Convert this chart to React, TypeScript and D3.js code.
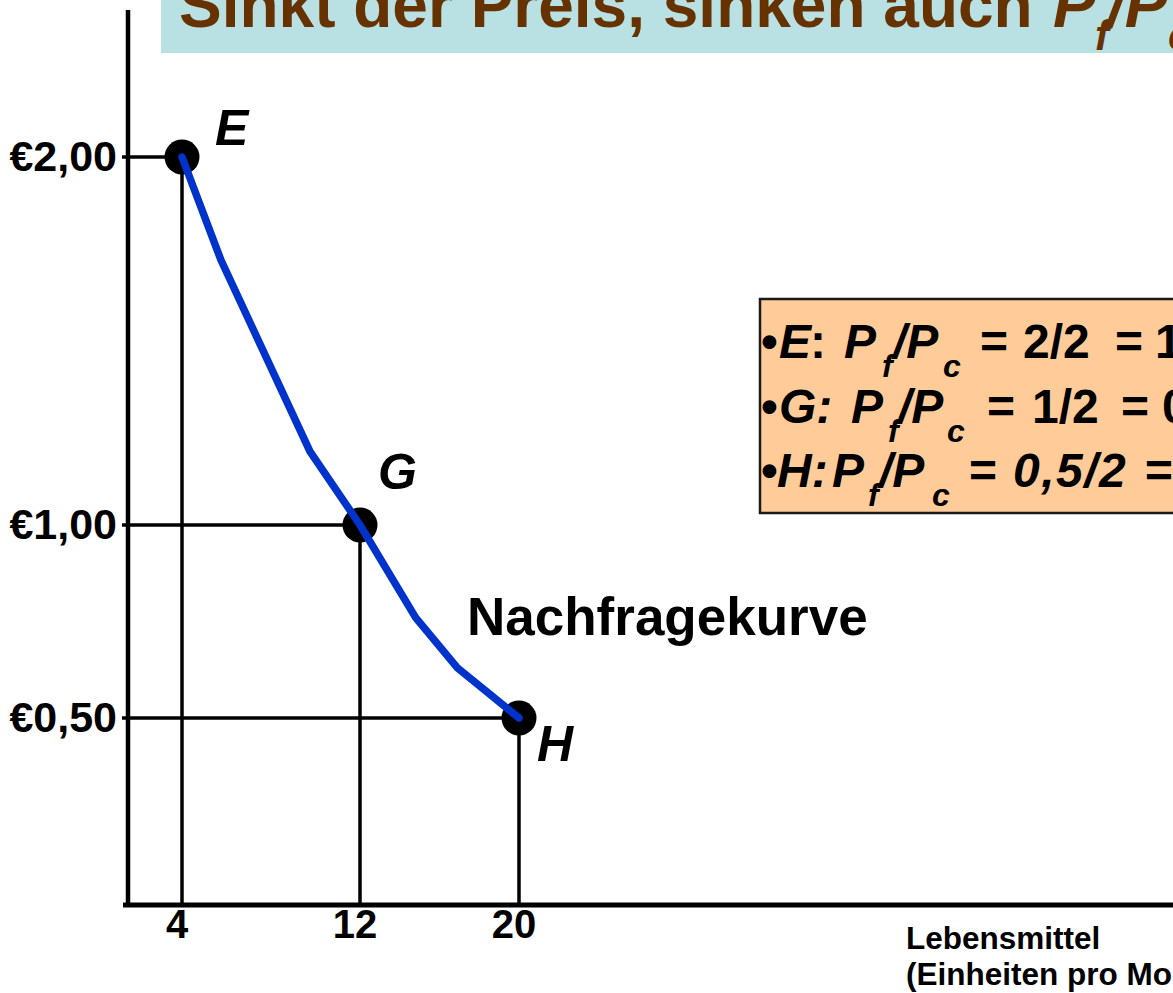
import React from "react";
import * as d3 from "d3";

// Nachfragekurve: Preis von Lebensmitteln gegen nachgefragte Menge
const pointNames = ["E", "G", "H"];
const quantities = [4, 12, 20];
const prices = [2, 1, 0.5];

// Stützpunkte der blauen Nachfragekurve
const curveQuantities = [4, 5.75, 9.75, 12, 14.8, 16.9, 20];
const curvePrices = [2, 1.72, 1.2, 1, 0.76, 0.63, 0.5];

const priceTicks = [2, 1, 0.5];
const priceTickLabels = ["€2,00", "€1,00", "€0,50"];
const quantityTicks = [4, 12, 20];
const quantityTickLabels = ["4", "12", "20"];

type Seg = { t: string; it?: boolean; sub?: boolean; x?: number; ls?: number };
const titleSegs: Seg[] = [
  { t: "Sinkt der Preis, sinken auch " },
  { t: "P", it: true, x: 1053 },
  { t: "f", it: true, sub: true, x: 1095 },
  { t: "/P", it: true, x: 1107 },
  { t: "c", it: true, sub: true, x: 1168 },
];
const ratioLines: Seg[][] = [
  [{ t: "•", x: 761 }, { t: "E", it: true, x: 779 }, { t: ":", x: 810 }, { t: "P", it: true, x: 844 }, { t: "f", it: true, sub: true, x: 882 }, { t: "/P", it: true, x: 893 }, { t: "c", it: true, sub: true, x: 943 }, { t: "=", x: 980 }, { t: "2/2", x: 1023 }, { t: "=", x: 1115 }, { t: "1", x: 1155 }],
  [{ t: "•", x: 761 }, { t: "G: ", it: true, x: 779 }, { t: "P", it: true, x: 851 }, { t: "f", it: true, sub: true, x: 888 }, { t: "/P", it: true, x: 898 }, { t: "c", it: true, sub: true, x: 947 }, { t: "=", x: 987 }, { t: "1/2", x: 1032 }, { t: "=", x: 1121 }, { t: "0,5", x: 1162 }],
  [{ t: "•", x: 761 }, { t: "H:", it: true, x: 777 }, { t: "P", it: true, x: 832 }, { t: "f", it: true, sub: true, x: 868 }, { t: "/P", it: true, x: 879 }, { t: "c", it: true, sub: true, x: 932 }, { t: "=", x: 969 }, { t: "0,5/2", it: true, x: 1013, ls: 1.5 }, { t: "=", it: true, x: 1144 }, { t: "0,25", it: true, x: 1186 }],
];

const W = 1173;
const H = 993;
const FONT = "'Liberation Sans', Arial, Helvetica, sans-serif";

export default function App() {
  const x = d3.scaleLinear().domain([0, 4, 12, 20]).range([128, 182, 360, 519]);
  const y = d3.scaleLinear().domain([0, 0.5, 1, 2]).range([905, 718, 525, 157]);

  const curve = d3
    .line<number>()
    .x((_, i) => x(curveQuantities[i]))
    .y((_, i) => y(curvePrices[i]))
    .curve(d3.curveLinear);

  const renderSegs = (segs: Seg[], size: number, subSize: number, subDy: number) => {
    const out: React.ReactNode[] = [];
    let shifted = false;
    segs.forEach((s, i) => {
      let dy = 0;
      if (s.sub && !shifted) {
        dy = subDy;
        shifted = true;
      } else if (!s.sub && shifted) {
        dy = -subDy;
        shifted = false;
      }
      out.push(
        <tspan
          key={i}
          x={s.x}
          dy={dy || undefined}
          fontStyle={s.it ? "italic" : "normal"}
          fontSize={s.sub ? subSize : size}
          letterSpacing={s.ls}
        >
          {s.t}
        </tspan>
      );
    });
    return out;
  };

  const path = curve(curveQuantities) || "";

  return (
    <svg
      width={W}
      height={H}
      style={{ position: "absolute", left: 0, top: 0, background: "#fff" }}
      fontFamily={FONT}
      fontWeight="bold"
    >
      {/* Titelbalken */}
      <rect x={161} y={-10} width={W} height={63} fill="#B9E0E3" />
      <text x={179} y={27} fill="#663300" fontSize={64} style={{ whiteSpace: "pre" }}>
        {renderSegs(titleSegs, 64, 42, 23)}
      </text>

      {/* Hilfslinien zu den Achsen */}
      <g stroke="#000" strokeWidth={3.5} fill="none">
        {quantities.map((q, i) => (
          <g key={pointNames[i]}>
            <line x1={x(0) - 6} x2={x(q)} y1={y(prices[i])} y2={y(prices[i])} />
            <line x1={x(q)} x2={x(q)} y1={y(prices[i])} y2={y(0)} />
          </g>
        ))}
      </g>

      {/* Achsen */}
      <line x1={x(0)} x2={x(0)} y1={10} y2={y(0) + 2} stroke="#000" strokeWidth={4.5} />
      <line x1={x(0) - 5} x2={W} y1={y(0)} y2={y(0)} stroke="#000" strokeWidth={5} />

      {/* Preisbeschriftung */}
      {priceTicks.map((p, i) => (
        <text
          key={p}
          x={117}
          y={y(p)}
          dy="0.33em"
          textAnchor="end"
          fontSize={43}
          fill="#000"
        >
          {priceTickLabels[i]}
        </text>
      ))}

      {/* Mengenbeschriftung */}
      {quantityTicks.map((q, i) => (
        <text key={q} x={x(q) - 5} y={938} textAnchor="middle" fontSize={40} fill="#000">
          {quantityTickLabels[i]}
        </text>
      ))}

      <text x={906} y={949} fontSize={31.5} fill="#000">
        Lebensmittel
      </text>
      <text x={906} y={985} fontSize={31.5} fill="#000">
        (Einheiten pro Monat)
      </text>

      {/* Nachfragekurve mit Punkten */}
      {quantities.map((q, i) => (
        <circle key={pointNames[i]} cx={x(q)} cy={y(prices[i])} r={17.5} fill="#000" />
      ))}
      <path
        d={path}
        fill="none"
        stroke="#0033CC"
        strokeWidth={7.5}
        strokeLinejoin="round"
        strokeLinecap="round"
      />

      {/* Punktbezeichnungen */}
      <text x={x(quantities[0]) + 33} y={y(prices[0]) - 12} fontSize={50} fontStyle="italic" fill="#000">
        {pointNames[0]}
      </text>
      <text x={x(quantities[1]) + 18} y={y(prices[1]) - 36} fontSize={50} fontStyle="italic" fill="#000">
        {pointNames[1]}
      </text>
      <text x={x(quantities[2]) + 18} y={y(prices[2]) + 43} fontSize={50} fontStyle="italic" fill="#000">
        {pointNames[2]}
      </text>

      <text x={467} y={635} fontSize={53} fill="#000">
        Nachfragekurve
      </text>

      {/* Preisverhältnisse */}
      <rect x={760} y={299} width={500} height={214} fill="#FFCC99" stroke="#1a1a1a" strokeWidth={2.5} />
      {ratioLines.map((segs, i) => (
        <text
          key={i}
          x={761}
          y={358 + i * 64.5}
          fontSize={48}
          fill="#000"
          style={{ whiteSpace: "pre" }}
        >
          {renderSegs(segs, 48, 32, 19)}
        </text>
      ))}
    </svg>
  );
}
